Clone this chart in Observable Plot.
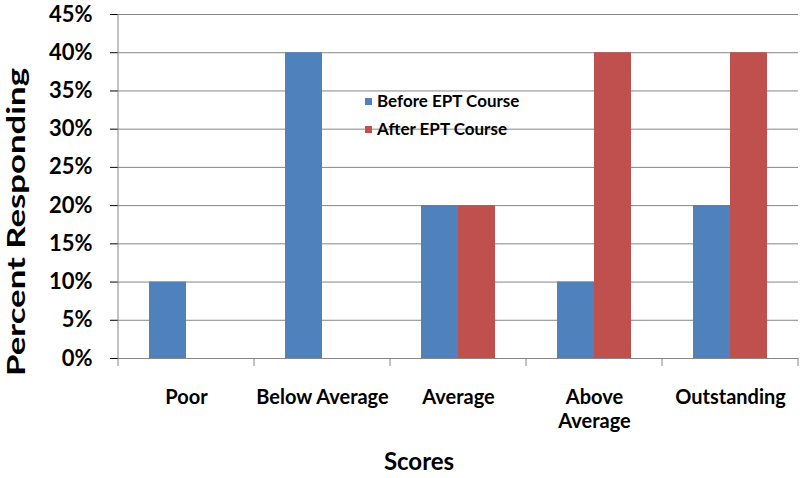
<!DOCTYPE html>
<html>
<head>
<meta charset="utf-8">
<script src="https://cdn.jsdelivr.net/npm/d3@7"></script>
<script src="https://cdn.jsdelivr.net/npm/@observablehq/plot@0.6"></script>
<style>
  html, body { margin: 0; padding: 0; background: #fff; }
  #chart svg { display: block; }
  [aria-label="y-axis tick"] { stroke: #868686; }
</style>
</head>
<body>
<div id="chart"></div>
<script>
// ---- data ----
const categories = ["Poor", "Below Average", "Average", "Above Average", "Outstanding"];
const tickLabels = ["Poor", "Below Average", "Average", "Above\nAverage", "Outstanding"];
const series = ["Before EPT Course", "After EPT Course"];
const beforeValues = [10, 40, 20, 10, 20];
const afterValues = [0, 0, 20, 40, 40];
const colors = ["#4F81BD", "#C0504D"];
const yTicks = [0, 5, 10, 15, 20, 25, 30, 35, 40, 45];
const yTitle = "Percent Responding";
const xTitle = "Scores";

const data = categories.flatMap((c, i) => [
  {category: c, series: series[0], value: beforeValues[i]},
  {category: c, series: series[1], value: afterValues[i]}
]);

const FONT = "Lato, 'Open Sans', sans-serif";
const GRID = "#868686";

const plot = Plot.plot({
  width: 800,
  height: 478,
  marginLeft: 118,
  marginRight: 2,
  marginTop: 14,
  marginBottom: 120,
  style: {fontFamily: FONT, fontWeight: "bold", color: "#000", background: "#fff"},
  fx: {domain: categories, padding: 0, label: null, axis: null},
  x: {domain: series, paddingInner: 0, paddingOuter: 0.79, axis: null},
  y: {domain: [0, 45], label: null},
  color: {domain: series, range: colors},
  marks: [
    Plot.gridY(yTicks, {stroke: GRID, strokeOpacity: 1}),
    Plot.axisY(yTicks, {tickSize: 8, tickPadding: 18, tickFormat: d => d + "%", fontSize: 22, label: null}),
    Plot.axisFx({
      anchor: "bottom",
      tickSize: 0, tickPadding: 28, fontSize: 20, lineHeight: 1.2, label: null,
      tickFormat: d => tickLabels[categories.indexOf(d)]
    }),
    Plot.barY(data.filter(d => d.value > 0), {fx: "category", x: "series", y: "value", fill: "series"})
  ]
});

document.getElementById("chart").appendChild(plot);

// ---- decorations: axis lines, category boundary ticks, titles, legend ----
const svg = d3.select(plot);
const fxs = plot.scale("fx");
const ys = plot.scale("y");
const band = d3.scaleBand().domain(fxs.domain).range(fxs.range).padding(0);
const y0 = ys.range[0], yTop = ys.range[1];
const left = fxs.range[0];

const deco = svg.append("g").attr("text-anchor", "start");
// vertical value axis line
deco.append("line").attr("x1", left).attr("x2", left).attr("y1", yTop).attr("y2", y0)
  .attr("stroke", GRID);
// category boundary ticks
const bounds = categories.map(c => band(c)).concat([band(categories[categories.length - 1]) + band.bandwidth()]);
deco.selectAll("line.bt").data(bounds).join("line").attr("class", "bt")
  .attr("x1", d => d).attr("x2", d => d).attr("y1", y0).attr("y2", y0 + 8).attr("stroke", GRID);

// axis titles
deco.append("text").text(yTitle)
  .attr("transform", `translate(25,222) rotate(-90)`)
  .attr("text-anchor", "middle")
  .attr("font-family", FONT).attr("font-weight", "bold").attr("font-size", 24)
  .attr("textLength", 308).attr("lengthAdjust", "spacingAndGlyphs");
deco.append("text").text(xTitle)
  .attr("x", 419).attr("y", 470).attr("text-anchor", "middle")
  .attr("font-family", FONT).attr("font-weight", "bold").attr("font-size", 24);

// legend
const lg = deco.append("g").attr("transform", "translate(365,98)");
series.forEach((s, i) => {
  const row = lg.append("g").attr("transform", `translate(0,${i * 28})`);
  row.append("rect").attr("width", 7).attr("height", 7).attr("fill", colors[i]);
  row.append("text").text(s).attr("x", 12).attr("y", 3.5).attr("dy", "0.35em")
    .attr("text-anchor", "start")
    .attr("font-family", FONT).attr("font-weight", "bold").attr("font-size", 17);
});
</script>
</body>
</html>
